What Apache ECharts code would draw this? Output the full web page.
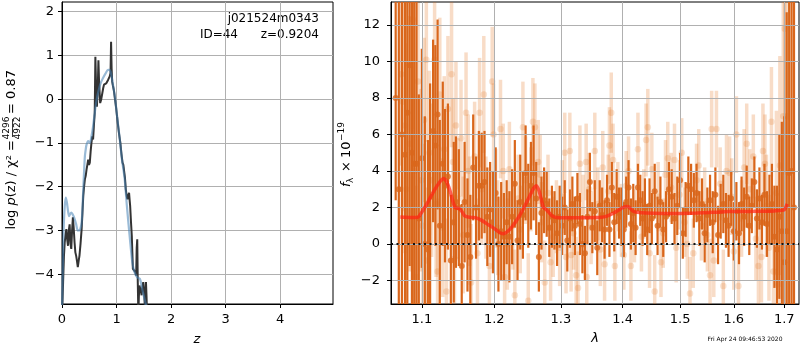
<!DOCTYPE html>
<html>
<head>
<meta charset="utf-8">
<script src="https://cdn.jsdelivr.net/npm/echarts@6/dist/echarts.min.js"></script>
<style>
  html, body { margin: 0; padding: 0; background: #fff; }
  #main { width: 800px; height: 350px; }
</style>
</head>
<body>
<div id="main"></div>
<script>
// left panel: log p(z), [z, value]
var pzDark = [[0.0,-4.9],[0.01,-4.6],[0.02,-4.18],[0.035,-3.6],[0.05,-3.27],[0.065,-3.1],[0.08,-2.97],[0.095,-3.2],[0.11,-3.35],[0.125,-3.0],[0.14,-2.86],[0.155,-3.3],[0.17,-3.42],[0.185,-3.0],[0.20,-2.70],[0.215,-2.95],[0.23,-3.27],[0.245,-3.5],[0.26,-3.58],[0.275,-3.7],[0.29,-3.84],[0.305,-3.7],[0.32,-3.58],[0.34,-3.3],[0.36,-2.97],[0.375,-2.6],[0.39,-2.21],[0.405,-2.0],[0.42,-1.83],[0.435,-1.75],[0.45,-1.61],[0.465,-1.5],[0.48,-1.38],[0.495,-1.5],[0.51,-1.45],[0.525,-1.2],[0.54,-1.0],[0.555,-0.85],[0.57,-0.92],[0.585,-0.6],[0.60,-0.32],[0.612,0.97],[0.625,0.3],[0.64,-0.17],[0.655,0.2],[0.668,0.89],[0.68,0.4],[0.70,-0.09],[0.72,0.0],[0.74,0.14],[0.755,0.25],[0.77,0.33],[0.79,0.34],[0.81,0.36],[0.83,0.4],[0.845,0.44],[0.86,0.48],[0.875,0.52],[0.89,0.6],[0.90,1.31],[0.91,0.7],[0.92,0.40],[0.935,0.3],[0.95,0.21],[0.97,0.02],[0.99,-0.17],[1.01,-0.4],[1.03,-0.62],[1.05,-0.82],[1.07,-1.0],[1.09,-1.25],[1.11,-1.45],[1.125,-1.5],[1.14,-1.53],[1.155,-1.8],[1.17,-2.06],[1.185,-2.2],[1.20,-2.29],[1.215,-2.2],[1.23,-2.14],[1.24,-2.3],[1.25,-2.44],[1.265,-2.8],[1.28,-3.12],[1.29,-3.5],[1.30,-3.88],[1.315,-3.85],[1.33,-3.88],[1.345,-3.95],[1.36,-4.03],[1.37,-3.4],[1.38,-3.2],[1.39,-4.2],[1.40,-4.9],[1.41,-4.5],[1.42,-4.26],[1.44,-4.35],[1.46,-4.48],[1.475,-4.3],[1.49,-4.18],[1.505,-4.4],[1.52,-4.75],[1.53,-4.4],[1.54,-4.18],[1.55,-4.5],[1.56,-4.9],[1.6,-5.5]];
var pzBlue = [[0.0,-4.9],[0.006,-4.48],[0.02,-3.5],[0.03,-2.97],[0.05,-2.45],[0.07,-2.25],[0.09,-2.36],[0.11,-2.55],[0.13,-2.67],[0.15,-2.62],[0.17,-2.59],[0.19,-2.62],[0.21,-2.67],[0.235,-2.75],[0.26,-2.86],[0.29,-3.0],[0.32,-3.0],[0.345,-2.92],[0.36,-2.82],[0.375,-2.5],[0.39,-2.06],[0.405,-1.65],[0.42,-1.30],[0.435,-1.15],[0.45,-1.04],[0.48,-0.96],[0.51,-1.0],[0.54,-0.85],[0.57,-0.62],[0.60,-0.32],[0.63,-0.05],[0.66,0.14],[0.69,0.29],[0.72,0.40],[0.75,0.48],[0.80,0.59],[0.845,0.67],[0.87,0.67],[0.89,0.63],[0.92,0.44],[0.945,0.25],[0.97,0.06],[1.01,-0.39],[1.06,-0.92],[1.10,-1.38],[1.15,-1.83],[1.19,-2.44],[1.24,-3.12],[1.29,-3.73],[1.33,-3.95],[1.38,-4.07],[1.43,-4.11],[1.47,-4.33],[1.50,-4.5],[1.54,-4.7],[1.58,-5.0],[1.62,-5.4]];
var zTicks = [0, 1, 2, 3, 4];
var pzTicks = [-4, -3, -2, -1, 0, 1, 2];

// right panel: spectrum, [lambda, flux, err]
var specDark = [[1.066,8.0,5.6],[1.070,3.0,16],[1.074,6.0,15],[1.078,4.9,14],[1.081,7.2,12],[1.084,9.8,11],[1.087,5.0,10],[1.090,4.4,9],[1.093,4.4,9],[1.096,1.4,6.8],[1.100,4.7,6],[1.104,0.0,7],[1.108,-0.3,6],[1.111,2.6,6.2],[1.115,6.2,5],[1.118,5.4,5.5],[1.121,7.1,5.2],[1.124,1.0,5.8],[1.128,4.4,4.5],[1.131,3.2,4.2],[1.135,3.7,4],[1.139,-0.9,3.6],[1.143,1.2,4.4],[1.146,2.3,3.6],[1.150,2.0,3.2],[1.154,-1.2,3.4],[1.158,2.3,3.3],[1.162,0.5,3.1],[1.166,-0.7,3.4],[1.170,4.2,2.9],[1.174,2.0,2.8],[1.178,3.2,3.0],[1.182,3.2,2.9],[1.186,3.4,2.8],[1.190,1.5,2.7],[1.194,1.9,2.6],[1.198,1.2,2.8],[1.202,2.8,2.5],[1.206,0.0,2.6],[1.210,0.7,2.7],[1.214,0.4,2.4],[1.218,1.2,2.3],[1.222,0.4,2.5],[1.226,1.5,2.6],[1.230,3.3,2.4],[1.234,0.2,2.2],[1.238,2.3,2.6],[1.242,1.6,2.4],[1.246,3.9,2.6],[1.250,2.1,2.3],[1.254,3.2,2.4],[1.258,3.9,2.6],[1.262,2.5,2.0],[1.266,-0.7,1.9],[1.270,1.7,2.0],[1.274,2.4,1.8],[1.278,2.2,1.8],[1.282,0.9,1.6],[1.286,1.5,1.7],[1.290,1.3,1.6],[1.294,0.6,1.8],[1.298,1.5,1.7],[1.302,1.0,1.6],[1.306,2.0,1.5],[1.310,0.2,1.7],[1.314,1.4,1.6],[1.318,2.2,1.5],[1.322,1.0,1.6],[1.326,2.5,1.4],[1.330,1.1,1.7],[1.334,0.0,1.6],[1.338,-0.5,1.5],[1.342,1.5,1.5],[1.346,3.4,1.6],[1.350,0.9,1.4],[1.354,1.8,1.7],[1.358,-0.2,1.5],[1.362,2.1,1.4],[1.366,1.6,1.5],[1.370,0.8,1.6],[1.374,2.4,1.4],[1.378,0.8,1.5],[1.382,3.1,1.4],[1.386,1.2,1.6],[1.390,2.6,1.5],[1.394,1.7,1.4],[1.398,1.5,1.6],[1.402,0.8,1.5],[1.406,2.3,1.4],[1.410,3.1,1.5],[1.414,1.1,1.4],[1.418,1.7,1.6],[1.422,0.9,1.5],[1.426,3.1,1.3],[1.430,2.4,1.4],[1.434,1.4,1.5],[1.438,2.0,1.6],[1.442,0.8,1.4],[1.446,2.1,1.5],[1.450,1.4,1.4],[1.455,2.9,1.5],[1.460,1.0,1.6],[1.465,2.3,1.4],[1.470,0.8,1.5],[1.475,1.5,1.4],[1.480,3.0,1.5],[1.485,2.6,1.5],[1.490,1.4,1.4],[1.495,2.1,1.6],[1.500,3.5,1.5],[1.505,0.6,1.4],[1.510,1.9,1.5],[1.515,3.2,1.6],[1.520,3.0,1.4],[1.525,2.4,1.5],[1.530,2.8,1.6],[1.535,1.4,1.5],[1.540,2.2,1.4],[1.545,0.6,1.6],[1.550,1.6,1.5],[1.555,2.4,1.4],[1.560,1.2,1.7],[1.565,2.7,1.5],[1.570,0.5,1.6],[1.575,1.8,1.5],[1.580,2.2,1.6],[1.585,1.3,1.5],[1.590,1.0,1.7],[1.595,2.5,1.5],[1.600,0.7,1.6],[1.605,1.8,1.6],[1.610,0.6,1.7],[1.615,2.2,1.5],[1.620,1.5,1.6],[1.625,2.6,1.7],[1.630,1.0,1.6],[1.635,2.1,1.5],[1.640,3.4,1.4],[1.645,1.4,1.6],[1.650,2.5,1.7],[1.655,1.2,1.5],[1.660,2.7,1.7],[1.665,1.1,1.8],[1.670,1.9,1.9],[1.675,2.2,2.2],[1.680,0.4,2.8],[1.685,-0.3,3.5],[1.690,1.5,4.5],[1.695,0.7,6.0],[1.700,-1.0,8.0],[1.705,0.7,12],[1.710,3.9,14],[1.715,4.0,18],[1.720,2.0,20]];
var specLight = [[1.073,9.3,5],[1.075,7.8,6],[1.078,6.5,7],[1.0795,3.0,8],[1.084,5.5,7],[1.088,12.3,6],[1.090,4.0,6],[1.092,-1.8,5],[1.095,8.9,5],[1.099,3.5,5],[1.101,1.0,4.5],[1.103,6.8,4.5],[1.106,10.1,4.5],[1.107,-0.9,4],[1.110,5.0,4.5],[1.113,3.5,4.2],[1.117,10.1,4.5],[1.119,2.2,4],[1.121,-1.5,4],[1.124,8.2,4.2],[1.128,0.9,3.8],[1.130,5.2,4],[1.133,-2.6,4],[1.135,7.4,4],[1.140,9.3,4],[1.142,4.5,3.5],[1.144,-0.8,3.5],[1.146,6.5,3.5],[1.149,2.5,3.3],[1.153,5.8,3.2],[1.156,0.5,3.2],[1.160,7.2,3.3],[1.163,4.0,3.1],[1.165,1.8,3],[1.167,-2.1,3.2],[1.172,4.8,3.0],[1.176,-0.5,3],[1.179,7.2,3.0],[1.182,3.0,3],[1.185,8.2,3.2],[1.188,2.0,2.8],[1.193,-1.2,2.8],[1.197,8.9,3.0],[1.199,6.0,2.8],[1.202,2.5,2.7],[1.205,0.9,2.6],[1.209,6.3,2.7],[1.213,4.0,2.6],[1.215,-1.8,2.5],[1.219,0.0,2.5],[1.222,4.1,2.6],[1.227,1.0,2.4],[1.230,-2.8,2.5],[1.235,2.5,2.4],[1.238,0.8,2.4],[1.242,6.4,2.5],[1.246,3.5,2.4],[1.250,-3.1,2.6],[1.254,3.0,2.3],[1.257,6.7,2.4],[1.260,6.4,2.4],[1.265,4.5,2.3],[1.268,3.8,2.2],[1.270,1.2,2.2],[1.275,-2.1,2.3],[1.280,2.8,2.1],[1.284,-1.0,2.1],[1.288,0.4,2.2],[1.293,1.5,2.0],[1.298,-0.2,2.1],[1.302,2.6,2.0],[1.306,5.0,2.2],[1.308,-0.7,2.0],[1.314,5.1,2.1],[1.316,-0.6,2.0],[1.320,0.6,2.0],[1.324,-1.7,2.1],[1.327,-2.4,2.0],[1.330,4.4,2.1],[1.335,1.8,2.0],[1.340,4.5,2.1],[1.341,-1.8,2.0],[1.345,3.0,2.0],[1.348,0.9,2.0],[1.354,5.1,2.1],[1.359,2.2,2.0],[1.363,-0.3,2.0],[1.367,4.2,2.0],[1.370,-1.1,2.0],[1.376,2.9,2.0],[1.378,5.4,2.1],[1.381,7.2,2.2],[1.384,4.6,2.0],[1.387,-1.2,1.9],[1.392,2.6,1.9],[1.398,1.3,2.0],[1.402,-0.6,1.9],[1.406,3.2,1.9],[1.410,4.0,1.9],[1.414,-1.2,1.9],[1.420,1.0,2.0],[1.426,5.2,2.0],[1.432,0.4,1.9],[1.436,2.2,1.9],[1.440,5.7,2.0],[1.443,6.4,2.1],[1.446,-0.5,1.9],[1.450,4.1,2.0],[1.455,-2.6,2.0],[1.461,2.6,1.9],[1.466,-1.0,1.9],[1.470,0.6,1.9],[1.474,3.8,1.9],[1.478,4.7,2.0],[1.484,3.1,1.9],[1.490,4.6,2.0],[1.493,-0.2,1.9],[1.499,2.7,1.9],[1.503,5.0,1.9],[1.508,1.2,1.9],[1.513,0.0,1.9],[1.518,-2.7,2.0],[1.524,-0.5,1.9],[1.530,3.5,2.0],[1.534,4.3,2.0],[1.539,1.0,1.9],[1.545,2.2,2.0],[1.550,0.5,2.0],[1.555,-1.7,2.0],[1.558,6.3,2.1],[1.562,-0.9,2.0],[1.567,6.3,2.1],[1.574,3.3,2.0],[1.580,-2.3,2.0],[1.586,4.0,2.0],[1.592,3.9,2.0],[1.596,2.6,2.1],[1.600,-0.4,2.1],[1.605,6.0,2.1],[1.609,-2.3,2.2],[1.615,1.4,2.1],[1.620,4.2,2.1],[1.625,5.5,2.2],[1.631,3.0,2.2],[1.638,4.8,2.3],[1.643,0.3,2.3],[1.648,-1.2,2.4],[1.654,-0.7,2.5],[1.657,5.1,2.6],[1.661,4.4,2.7],[1.664,2.1,2.8],[1.669,-0.2,2.9],[1.674,6.7,3.0],[1.678,-1.5,3.5],[1.684,2.8,4.5],[1.688,-2.2,5],[1.691,4.3,6],[1.698,7.0,7],[1.701,11.8,8],[1.705,7.0,9]];
var modelFlux = [[1.072,1.48],[1.085,1.46],[1.095,1.48],[1.100,1.75],[1.108,2.3],[1.116,2.9],[1.123,3.35],[1.129,3.59],[1.133,3.45],[1.138,2.9],[1.142,2.3],[1.145,2.0],[1.150,1.95],[1.154,1.8],[1.158,1.55],[1.165,1.47],[1.173,1.45],[1.182,1.3],[1.192,1.05],[1.202,0.8],[1.208,0.62],[1.213,0.57],[1.218,0.65],[1.226,0.95],[1.236,1.5],[1.245,2.1],[1.253,2.7],[1.258,3.05],[1.262,3.2],[1.266,2.95],[1.270,2.4],[1.273,2.0],[1.277,1.9],[1.281,1.75],[1.286,1.55],[1.293,1.46],[1.31,1.45],[1.34,1.45],[1.365,1.47],[1.375,1.55],[1.385,1.7],[1.395,1.9],[1.404,2.05],[1.409,2.06],[1.414,1.92],[1.418,1.8],[1.425,1.74],[1.44,1.7],[1.47,1.68],[1.50,1.68],[1.53,1.7],[1.56,1.74],[1.59,1.78],[1.62,1.78],[1.65,1.8],[1.68,1.82],[1.700,1.88],[1.706,2.2]];
var lamTicks = [1.1, 1.2, 1.3, 1.4, 1.5, 1.6, 1.7];
var fluxTicks = [-2, 0, 2, 4, 6, 8, 10, 12];

var FONT = 'DejaVu Sans';
var ORANGE = '#d9661b';
var ORANGE_LIGHT = 'rgba(224,108,20,0.24)';

function minus(v) { return String(v).replace('-', '\u2212'); }

// vertical error bar drawn as a thin rect, clipped to the plot box
function errorBars(width) {
  return function (params, api) {
    var x = api.value(0), y = api.value(1), e = api.value(2);
    var cs = params.coordSys;
    var top = api.coord([x, y + e]);
    var bot = api.coord([x, y - e]);
    var y0 = Math.max(top[1], cs.y);
    var y1 = Math.min(bot[1], cs.y + cs.height);
    if (y1 <= y0) return null;
    return {
      type: 'rect',
      shape: { x: top[0] - width / 2, y: y0, width: width, height: y1 - y0 },
      style: { fill: api.visual('color') }
    };
  };
}

// wavelength axis is logarithmic
function toLog(rows) {
  return rows.map(function (r) { return [Math.log10(r[0])].concat(r.slice(1)); });
}

var axisLabelStyle = { color: '#000', fontFamily: FONT, fontSize: 13 };
var tickStyle = { show: true, inside: false, length: 4, lineStyle: { color: '#000', width: 1 } };
var splitStyle = { show: true, lineStyle: { color: '#b0b0b0', width: 1 } };

var chart = echarts.init(document.getElementById('main'));
chart.setOption({
  animation: false,
  backgroundColor: '#fff',
  grid: [
    { left: 62, top: 2, width: 271, height: 302, show: true, borderColor: '#000', borderWidth: 1, outerBoundsMode: 'none' },
    { left: 391, top: 2, width: 408, height: 302, show: true, borderColor: '#000', borderWidth: 1, outerBoundsMode: 'none' }
  ],
  xAxis: [
    {
      gridIndex: 0, type: 'value', min: 0, max: 4.97,
      axisLine: { show: true, onZero: false, lineStyle: { color: '#000' } },
      axisTick: Object.assign({ customValues: zTicks }, tickStyle),
      axisLabel: Object.assign({ customValues: zTicks, margin: 9 }, axisLabelStyle),
      splitLine: splitStyle
    },
    {
      gridIndex: 1, type: 'value', min: 0.02531, max: 0.23813, z: 5,
      axisLine: { show: true, onZero: false, lineStyle: { color: '#000' } },
      axisTick: Object.assign({ customValues: lamTicks.map(Math.log10) }, tickStyle),
      axisLabel: Object.assign({
        customValues: lamTicks.map(Math.log10), margin: 9,
        formatter: function (v) { return Math.pow(10, v).toFixed(1); }
      }, axisLabelStyle),
      splitLine: splitStyle
    }
  ],
  yAxis: [
    {
      gridIndex: 0, type: 'value', min: -4.68, max: 2.22,
      axisLine: { show: true, onZero: false, lineStyle: { color: '#000' } },
      axisTick: Object.assign({ customValues: pzTicks }, tickStyle),
      axisLabel: Object.assign({ customValues: pzTicks, margin: 8, formatter: minus }, axisLabelStyle),
      splitLine: splitStyle
    },
    {
      gridIndex: 1, type: 'value', min: -3.28, max: 13.26, z: 5,
      axisLine: { show: true, onZero: false, lineStyle: { color: '#000' } },
      axisTick: Object.assign({ customValues: fluxTicks }, tickStyle),
      axisLabel: Object.assign({ customValues: fluxTicks, margin: 11, formatter: minus }, axisLabelStyle),
      splitLine: splitStyle
    }
  ],
  series: [
    {
      type: 'line', xAxisIndex: 0, yAxisIndex: 0, data: pzDark, showSymbol: false,
      lineStyle: { color: '#333', width: 2 }, z: 3
    },
    {
      type: 'line', xAxisIndex: 0, yAxisIndex: 0, data: pzBlue, showSymbol: false, smooth: 0.3,
      lineStyle: { color: '#4682b4', width: 2.2, opacity: 0.55 }, z: 4
    },
    {
      type: 'custom', xAxisIndex: 1, yAxisIndex: 1, data: toLog(specLight),
      renderItem: errorBars(3.5), itemStyle: { color: ORANGE_LIGHT }, z: 1
    },
    {
      type: 'scatter', xAxisIndex: 1, yAxisIndex: 1, data: toLog(specLight),
      symbolSize: 6.5, itemStyle: { color: ORANGE_LIGHT }, z: 1
    },
    {
      type: 'custom', xAxisIndex: 1, yAxisIndex: 1, data: toLog(specDark),
      renderItem: errorBars(2.2), itemStyle: { color: ORANGE }, z: 2
    },
    {
      type: 'scatter', xAxisIndex: 1, yAxisIndex: 1, data: toLog(specDark),
      symbolSize: 6, itemStyle: { color: ORANGE }, z: 2
    },
    {
      type: 'line', xAxisIndex: 1, yAxisIndex: 1, data: toLog(modelFlux), showSymbol: false, smooth: 0.2,
      lineStyle: { color: '#ff2414', width: 3.5, opacity: 0.72 }, z: 6,
      markLine: {
        silent: true, symbol: 'none', label: { show: false },
        lineStyle: { color: '#111', type: [2, 3.5], width: 2, opacity: 1 },
        data: [{ yAxis: 0 }]
      }
    }
  ],
  graphic: [
    { type: 'text', x: 319, y: 19, style: { text: 'j021524m0343', font: '12px "DejaVu Sans"', fill: '#000', align: 'right', verticalAlign: 'middle' } },
    { type: 'text', x: 238, y: 35, style: { text: 'ID=44', font: '12px "DejaVu Sans"', fill: '#000', align: 'right', verticalAlign: 'middle' } },
    { type: 'text', x: 319, y: 35, style: { text: 'z=0.9204', font: '12px "DejaVu Sans"', fill: '#000', align: 'right', verticalAlign: 'middle' } },
    { type: 'text', x: 197, y: 340, style: { text: 'z', font: 'italic 13px "DejaVu Sans"', fill: '#000', align: 'center', verticalAlign: 'middle' } },
    { type: 'text', x: 595, y: 339, style: { text: '\u03bb', font: 'italic 13px "DejaVu Sans"', fill: '#000', align: 'center', verticalAlign: 'middle' } },
    { type: 'text', x: 745, y: 339, style: { text: 'Fri Apr 24 09:46:53 2020', font: '6px "DejaVu Sans"', fill: '#000', align: 'center', verticalAlign: 'middle' } },
    {
      type: 'group', x: 12, y: 154, rotation: Math.PI / 2,
      children: [
        { type: 'text', x: 14, y: 0, style: { text: 'log {i|p}(z) / \u03c7\u00b2 =', font: '13px "DejaVu Sans"', fill: '#000', align: 'right', verticalAlign: 'middle', rich: { i: { fontStyle: 'italic', fontSize: 13, fontFamily: FONT } } } },
        { type: 'text', x: 26, y: -5, style: { text: '4296', font: '9px "DejaVu Sans"', fill: '#000', align: 'center', verticalAlign: 'middle' } },
        { type: 'line', shape: { x1: 17, y1: 0.5, x2: 35, y2: 0.5 }, style: { stroke: '#000', lineWidth: 0.8 } },
        { type: 'text', x: 26, y: 6, style: { text: '4922', font: '9px "DejaVu Sans"', fill: '#000', align: 'center', verticalAlign: 'middle' } },
        { type: 'text', x: 40, y: 0, style: { text: '= 0.87', font: '13px "DejaVu Sans"', fill: '#000', align: 'left', verticalAlign: 'middle' } }
      ]
    },
    {
      type: 'group', x: 347, y: 153, rotation: Math.PI / 2,
      children: [
        { type: 'text', x: -34, y: 0, style: { text: 'f', font: 'italic 13px "DejaVu Sans"', fill: '#000', align: 'left', verticalAlign: 'middle' } },
        { type: 'text', x: -30, y: 4, style: { text: '\u03bb', font: '9px "DejaVu Sans"', fill: '#000', align: 'left', verticalAlign: 'middle' } },
        { type: 'text', x: -19, y: 0, style: { text: '\u00d7', font: '13px "DejaVu Sans"', fill: '#000', align: 'left', verticalAlign: 'middle' } },
        { type: 'text', x: -5, y: 0, style: { text: '10', font: '13px "DejaVu Sans"', fill: '#000', align: 'left', verticalAlign: 'middle' } },
        { type: 'text', x: 12, y: -5, style: { text: '\u221219', font: '9px "DejaVu Sans"', fill: '#000', align: 'left', verticalAlign: 'middle' } }
      ]
    }
  ]
});
</script>
</body>
</html>
